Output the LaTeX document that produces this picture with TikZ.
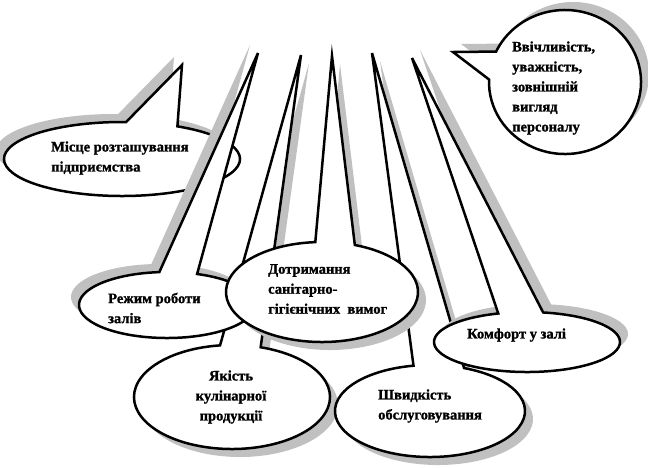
\documentclass[tikz,border=0pt]{standalone}
\usepackage{fontspec}
\setmainfont{Liberation Serif}[BoldFeatures={FakeBold=1.2}]
\usetikzlibrary{calc}
\definecolor{SHADOW-GREY}{RGB}{192,192,192}

\tikzset{
  bubble/.style={draw=black, fill=white, line width=2.5pt},
  bubble shadow/.style={fill=SHADOW-GREY},
  bubble text/.style={font=\bfseries\fontsize{14.5}{20}\selectfont, align=left, inner sep=0pt, anchor=west}
}

% ellipse callout: centre, x radius, y radius, tail angles, tail tip, shadow shift
\newcommand{\drawbubble}[7]{%
  \fill[bubble shadow, shift={#7}] ($#1+(#4:#2 and #3)$) -- #6
    -- ($#1+(#5:#2 and #3)$) arc[start angle=#5, end angle=#4+360, x radius=#2, y radius=#3] -- cycle;
  \draw[bubble] ($#1+(#4:#2 and #3)$) -- #6
    -- ($#1+(#5:#2 and #3)$) arc[start angle=#5, end angle=#4+360, x radius=#2, y radius=#3] -- cycle;
}

\begin{document}
\begin{tikzpicture}[x=1pt, y=-1pt]
  \useasboundingbox (0,0) rectangle (648,467);

  % Politeness (circle, top right)
  \drawbubble{(565,82)}{76}{72}{182}{205}{(453,52)}{(8,-8)}
  \node[bubble text] (staff) at (512,88) {Ввічливість,\\уважність,\\зовнішній\\вигляд\\персоналу};

  % Location
  \drawbubble{(122,159)}{118}{37}{272}{298}{(182,65)}{(-8,-8)}
  \node[bubble text] (location) at (51,158) {Місце розташування\\підприємства};

  % Quality of food
  \drawbubble{(232,397)}{98}{52}{263}{287}{(301,55)}{(8,8)}
  \node[bubble text, anchor=center, align=center] (quality) at (231,397) {Якість\\кулінарної\\продукції};

  % Opening hours
  \drawbubble{(167,305)}{88}{33}{265}{290}{(258,53)}{(-8,-8)}
  \node[bubble text] (hours) at (108,308) {Режим роботи\\залів};

  % Speed of service
  \drawbubble{(430,411)}{95}{46}{260}{291}{(372,53)}{(8,8)}
  \node[bubble text] (speed) at (378,406) {Швидкість\\обслуговування};

  % Comfort
  \drawbubble{(527,342)}{93}{30}{252}{280}{(412,58)}{(8,-8)}
  \node[bubble text] (comfort) at (467,335) {Комфорт у залі};

  % Hygiene
  \drawbubble{(322,292)}{96}{50}{266}{290}{(332,56)}{(8,8)}
  \node[bubble text] (hygiene) at (268,289) {Дотримання\\санітарно-\\гігієнічних\ \ вимог};
\end{tikzpicture}
\end{document}
